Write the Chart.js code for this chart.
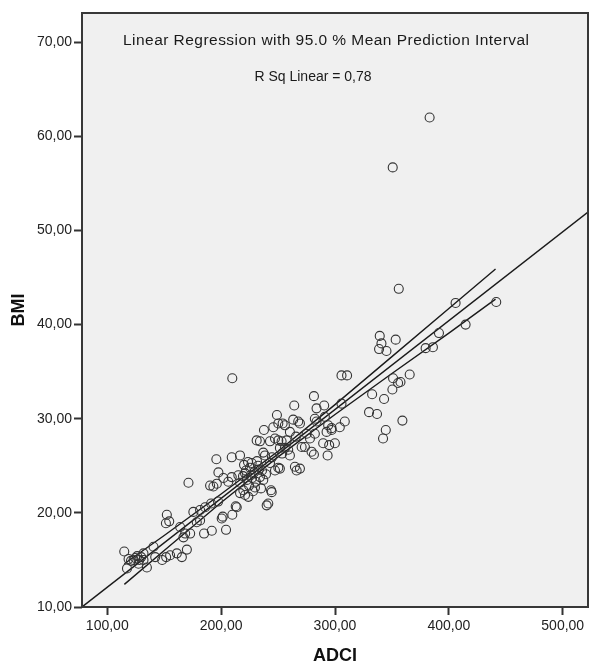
<!DOCTYPE html>
<html>
<head>
<meta charset="utf-8">
<script src="https://cdn.jsdelivr.net/npm/chart.js@4.4.0/dist/chart.umd.min.js"></script>
<style>
  html, body { margin: 0; padding: 0; background: #fff; }
  canvas { display: block; }
</style>
</head>
<body>
<canvas id="bmiChart" width="589" height="664"></canvas>
<script>
// ADCI vs BMI
const adci = [
    114.9, 118.7, 120.8, 117.3, 124.5, 126.3, 128.1, 129.8, 131.8, 134.8,
    140.6, 142.1, 148.2, 151.7, 152.3, 151.5, 154.4, 161.1, 165.5, 164.0,
    169.9, 172.8, 168.4, 171.3, 175.6, 155.2, 166.9, 131.8, 123.1, 127.4,
    181.5, 185.9, 191.2, 197.3, 185.0, 191.8, 204.3, 181.5, 178.6, 201.4,
    200.5, 209.8, 212.8, 213.7, 223.9, 241.4, 240.0, 244.4, 190.3, 193.2,
    196.2, 195.8, 209.3, 216.6, 197.6, 237.0, 206.3, 215.1, 219.5, 216.6,
    221.0, 202.0, 209.3, 220.1, 223.6, 226.8, 221.8, 225.4, 228.9, 232.4,
    219.2, 222.7, 227.1, 230.6, 234.1, 237.0, 224.5, 229.7, 235.0, 221.0,
    231.5, 235.9, 239.4, 228.0, 216.6, 237.6, 231.2, 234.1, 247.3, 250.2,
    242.9, 253.1, 257.5, 249.0, 250.2, 254.0, 256.0, 245.8, 263.3, 267.7,
    269.2, 264.2, 260.4, 265.7, 282.3, 278.0, 275.1, 270.7, 273.6, 289.6,
    294.9, 299.9, 281.5, 279.4, 293.5, 238.5, 256.0, 258.9, 260.4, 251.6,
    242.9, 251.6, 247.3, 250.2, 266.3, 269.2, 264.8, 243.8, 281.5, 290.5,
    283.8, 305.7, 282.3, 283.8, 291.1, 294.0, 297.0, 308.6, 304.2, 292.6,
    297.0, 305.7, 310.6, 329.9, 336.9, 332.6, 343.1, 344.6, 342.2, 359.2,
    350.4, 351.0, 355.4, 357.5, 365.6, 339.3, 340.8, 338.7, 345.2, 353.3,
    356.0, 350.7, 383.1, 379.6, 386.0, 391.3, 405.9, 414.7, 441.6, 209.8,
    226.0, 244.6, 253.5, 233.2
];
const bmi = [
    15.9, 15.1, 14.9, 14.1, 15.2, 15.4, 15.0, 15.3, 15.0, 14.2,
    16.4, 15.3, 15.0, 15.3, 19.8, 18.9, 19.1, 15.7, 15.3, 18.5,
    16.1, 17.8, 17.8, 23.2, 20.1, 15.5, 17.4, 15.7, 15.0, 14.6,
    20.3, 20.6, 21.0, 21.2, 17.8, 18.1, 18.2, 19.2, 19.0, 19.6,
    19.4, 19.8, 20.7, 20.6, 21.7, 21.0, 20.8, 22.2, 22.9, 22.8,
    23.1, 25.7, 25.9, 26.1, 24.3, 26.4, 23.3, 24.0, 22.4, 22.1,
    21.9, 23.7, 23.8, 25.1, 25.4, 25.3, 24.5, 24.8, 24.3, 25.0,
    23.9, 23.5, 23.7, 23.3, 23.8, 23.5, 22.9, 22.7, 22.6, 24.2,
    25.5, 24.5, 24.1, 22.3, 23.2, 28.8, 27.7, 27.6, 27.9, 27.7,
    27.6, 27.6, 27.7, 30.4, 29.5, 29.5, 29.3, 29.1, 29.9, 29.7,
    29.5, 31.4, 28.6, 28.1, 28.4, 27.9, 28.4, 27.0, 27.0, 27.4,
    27.2, 27.4, 26.2, 26.5, 26.1, 26.1, 26.9, 26.7, 26.1, 26.9,
    25.3, 24.7, 24.5, 24.8, 24.5, 24.7, 24.9, 22.4, 32.4, 31.4,
    31.1, 31.6, 30.0, 29.7, 30.2, 29.3, 29.0, 29.7, 29.1, 28.6,
    28.8, 34.6, 34.6, 30.7, 30.5, 32.6, 32.1, 28.8, 27.9, 29.8,
    33.1, 34.3, 33.8, 33.9, 34.7, 38.8, 38.0, 37.4, 37.2, 38.4,
    43.8, 56.7, 62.0, 37.5, 37.6, 39.1, 42.3, 40.0, 42.4, 34.3,
    24.0, 25.9, 26.3, 24.6
];

// fit line and 95% mean prediction band
const regX = [77.8, 522.2];
const regY = [10.0, 51.95];
const ciX = [115, 150, 200, 250, 300, 350, 400, 441];
const ciUpper = [14.6, 17.6, 22.0, 26.55, 31.5, 36.6, 41.7, 45.9];
const ciLower = [12.4, 16.0, 21.1, 25.95, 30.45, 34.8, 39.1, 42.7];

const xTicks = [100, 200, 300, 400, 500];
const yTicks = [10, 20, 30, 40, 50, 60, 70];

const fontFamily = "'Liberation Sans', Arial, sans-serif";
const fmt = v => Number(v).toFixed(2).replace('.', ',');
const pairs = (xs, ys) => xs.map((x, i) => ({ x: x, y: ys[i] }));

const lineStyle = {
    type: 'line',
    showLine: true,
    fill: false,
    borderColor: '#1a1a1a',
    borderWidth: 1.4,
    pointRadius: 0,
    tension: 0
};

// draws text stretched to a given width (SPSS spaces its header wider)
function spacedText(ctx, text, cx, cy, width) {
    const natural = ctx.measureText(text).width;
    if ('letterSpacing' in ctx) {
        ctx.letterSpacing = ((width - natural) / (text.length - 1)).toFixed(2) + 'px';
        ctx.textAlign = 'left';
        ctx.fillText(text, cx - width / 2, cy);
        ctx.letterSpacing = '0px';
    } else {
        ctx.save();
        ctx.translate(cx, cy);
        ctx.scale(width / natural, 1);
        ctx.textAlign = 'center';
        ctx.fillText(text, 0, 0);
        ctx.restore();
    }
}

// grey plot background, frame and the two annotation lines
const plotDecor = {
    id: 'plotDecor',
    beforeDraw(chart) {
        const { ctx, chartArea: a } = chart;
        ctx.save();
        ctx.fillStyle = '#ffffff';
        ctx.fillRect(0, 0, chart.width, chart.height);
        ctx.fillStyle = '#f0f0f0';
        ctx.fillRect(a.left, a.top, a.right - a.left, a.bottom - a.top);
        ctx.restore();
    },
    afterDraw(chart) {
        const { ctx, chartArea: a } = chart;
        ctx.save();
        ctx.strokeStyle = '#383838';
        ctx.lineWidth = 2;
        ctx.strokeRect(a.left, a.top, a.right - a.left, a.bottom - a.top);
        ctx.fillStyle = '#1a1a1a';
        ctx.textBaseline = 'middle';
        ctx.font = '15.5px ' + fontFamily;
        spacedText(ctx, 'Linear Regression with 95.0 % Mean Prediction Interval', 326, 41, 406);
        ctx.font = '14px ' + fontFamily;
        ctx.textAlign = 'center';
        ctx.fillText('R Sq Linear = 0,78', 313, 77);
        ctx.restore();
    }
};

const ctx = document.getElementById('bmiChart').getContext('2d');
new Chart(ctx, {
    type: 'scatter',
    data: {
        datasets: [
            {
                label: 'BMI',
                data: pairs(adci, bmi),
                pointStyle: 'circle',
                pointRadius: 4.5,
                pointBorderWidth: 1.1,
                pointBorderColor: '#333333',
                pointBackgroundColor: 'rgba(0,0,0,0)'
            },
            Object.assign({ label: 'Linear', data: pairs(regX, regY) }, lineStyle),
            Object.assign({ label: 'Upper', data: pairs(ciX, ciUpper) }, lineStyle),
            Object.assign({ label: 'Lower', data: pairs(ciX, ciLower) }, lineStyle)
        ]
    },
    options: {
        responsive: false,
        animation: false,
        layout: { autoPadding: false, padding: { top: 13, right: 1, left: 0, bottom: 0 } },
        plugins: {
            legend: { display: false },
            tooltip: { enabled: false }
        },
        scales: {
            x: {
                type: 'linear',
                min: 77.8,
                max: 522.2,
                border: { display: false },
                grid: {
                    drawOnChartArea: false,
                    drawTicks: true,
                    tickLength: 8,
                    tickWidth: 2,
                    tickColor: '#333333'
                },
                ticks: {
                    color: '#222222',
                    font: { family: fontFamily, size: 14 },
                    padding: 3,
                    maxRotation: 0,
                    callback: fmt
                },
                afterBuildTicks: s => { s.ticks = xTicks.map(v => ({ value: v })); },
                afterFit: s => {
                    s.height = 57;
                    s.paddingLeft = 0;
                    s.paddingRight = 0;
                },
                title: {
                    display: true,
                    text: 'ADCI',
                    color: '#111111',
                    font: { family: fontFamily, size: 18, weight: 'bold' },
                    padding: { top: 0, bottom: -3 }
                }
            },
            y: {
                type: 'linear',
                min: 10,
                max: 73.1,
                border: { display: false },
                grid: {
                    drawOnChartArea: false,
                    drawTicks: true,
                    tickLength: 8,
                    tickWidth: 2,
                    tickColor: '#333333'
                },
                ticks: {
                    color: '#222222',
                    font: { family: fontFamily, size: 14 },
                    padding: 2,
                    callback: fmt
                },
                afterBuildTicks: s => { s.ticks = yTicks.map(v => ({ value: v })); },
                afterFit: s => {
                    s.width = 82;
                    s.paddingTop = 0;
                    s.paddingBottom = 0;
                },
                title: {
                    display: true,
                    text: 'BMI',
                    color: '#111111',
                    font: { family: fontFamily, size: 18, weight: 'bold' },
                    padding: { top: 8, bottom: 0 }
                }
            }
        }
    },
    plugins: [plotDecor]
});
</script>
</body>
</html>
